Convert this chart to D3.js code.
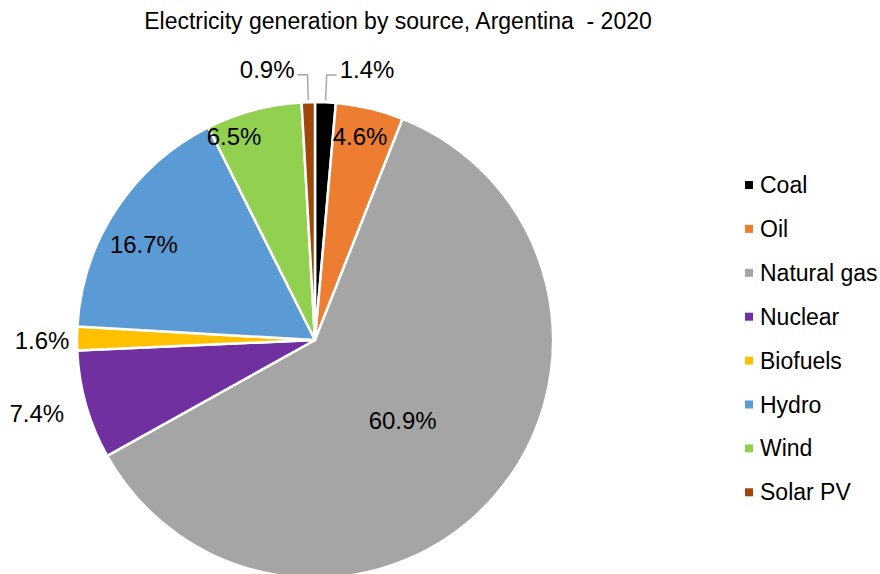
<!DOCTYPE html>
<html>
<head>
<meta charset="utf-8">
<script src="https://cdn.jsdelivr.net/npm/d3@7"></script>
<style>
  html, body { margin: 0; padding: 0; background: #fff; }
  svg { display: block; font-family: "Liberation Sans", Arial, sans-serif; }
</style>
</head>
<body>
<svg id="chart" width="880" height="574"></svg>
<script>
// ---- data ----
const title = "Electricity generation by source, Argentina  - 2020";
const categories = ["Coal", "Oil", "Natural gas", "Nuclear", "Biofuels", "Hydro", "Wind", "Solar PV"];
const values = [1.4, 4.6, 60.9, 7.4, 1.6, 16.7, 6.5, 0.9];
const colors = ["#000000", "#ED7D31", "#A5A5A5", "#7030A0", "#FFC000", "#5B9BD5", "#92D050", "#9E480E"];

// ---- label layout (fraction along slice, radius factor, leader side) ----
const labelT = [0.5, 0.45, 0.506, 0.535, 0.42, 0.433, 0.209, 0.5];
const labelK = [1.115, 0.874, 0.5, 1.21, 1.147, 0.824, 0.918, 1.115];
const leader = [1, 0, 0, 0, 0, 0, 0, -1];

const svg = d3.select("#chart");
const cx = 315, cy = 340, R = 238;

svg.append("text")
  .attr("x", 398).attr("y", 29)
  .attr("text-anchor", "middle")
  .attr("font-size", 23)
  .attr("fill", "#000")
  .style("white-space", "pre")
  .text(title);

const data = categories.map((c, i) => ({ name: c, value: values[i], color: colors[i], i }));
const pie = d3.pie().sort(null).value(d => d.value);
const arcs = pie(data);
const arc = d3.arc().innerRadius(0).outerRadius(R);

const g = svg.append("g").attr("transform", `translate(${cx},${cy})`);

g.selectAll("path.slice")
  .data(arcs)
  .join("path")
  .attr("class", "slice")
  .attr("d", arc)
  .attr("fill", d => d.data.color)
  .attr("stroke", "#fff")
  .attr("stroke-width", 2.5)
  .attr("stroke-linejoin", "round");

const fmt = v => v.toFixed(1) + "%";
function polar(a, r) { return [Math.sin(a) * r, -Math.cos(a) * r]; }

arcs.forEach(d => {
  const i = d.data.i;
  const a = d.startAngle + (d.endAngle - d.startAngle) * labelT[i];
  if (leader[i] !== 0) {
    const p0 = polar(a, R + 2);
    const p1 = polar(a, R * labelK[i]);
    const p2 = [p1[0] + leader[i] * 10, p1[1]];
    g.append("path")
      .attr("d", d3.line()([p0, p1, p2]))
      .attr("fill", "none")
      .attr("stroke", "#A6A6A6")
      .attr("stroke-width", 1.5);
    g.append("text")
      .attr("x", p2[0] + leader[i] * 3)
      .attr("y", p2[1] - 5)
      .attr("dy", "0.35em")
      .attr("text-anchor", leader[i] > 0 ? "start" : "end")
      .attr("font-size", 24)
      .attr("fill", "#000")
      .text(fmt(d.data.value));
  } else {
    const p = polar(a, R * labelK[i]);
    g.append("text")
      .attr("x", p[0]).attr("y", p[1])
      .attr("dy", "0.35em")
      .attr("text-anchor", "middle")
      .attr("font-size", 24)
      .attr("fill", "#000")
      .text(fmt(d.data.value));
  }
});

// ---- legend ----
const legend = svg.append("g").attr("transform", "translate(745,185)");
const rowY = d3.scalePoint().domain(categories).range([0, 7 * 43.9]);
const item = legend.selectAll("g.item")
  .data(data)
  .join("g")
  .attr("class", "item")
  .attr("transform", d => `translate(0,${rowY(d.name)})`);
item.append("rect")
  .attr("x", 0).attr("y", -4).attr("width", 8).attr("height", 8)
  .attr("fill", d => d.color);
item.append("text")
  .attr("x", 15).attr("y", 0).attr("dy", "0.35em")
  .attr("font-size", 23)
  .attr("fill", "#000")
  .text(d => d.name);
</script>
</body>
</html>
